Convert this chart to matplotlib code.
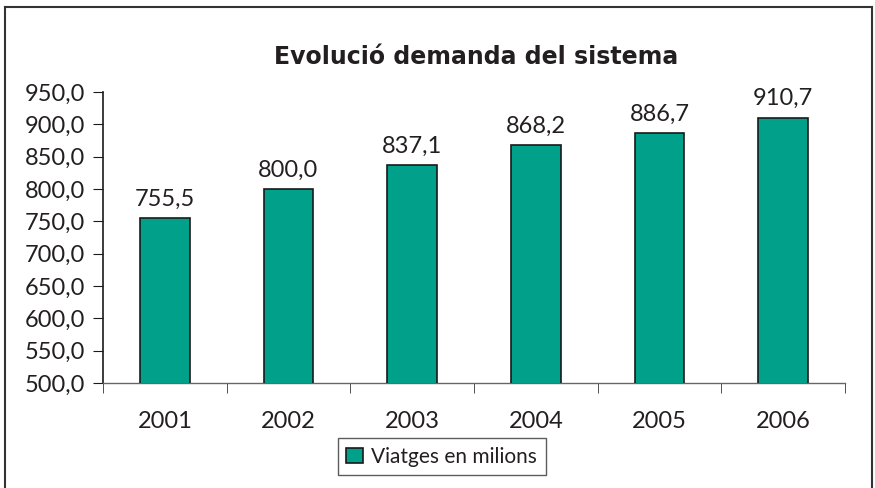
import matplotlib
matplotlib.use('Agg')
import matplotlib.pyplot as plt
from matplotlib.lines import Line2D

years = ['2001', '2002', '2003', '2004', '2005', '2006']
viatges = [755.5, 800.0, 837.1, 868.2, 886.7, 910.7]
yticks = [500, 550, 600, 650, 700, 750, 800, 850, 900, 950]

plt.rcParams['font.family'] = ['Lato', 'DejaVu Sans']
txt = '#231f20'
teal = '#00a08b'

def fmt(v):
    return ('%.1f' % v).replace('.', ',')

fig = plt.figure(figsize=(8.75, 4.88), dpi=100)
ax = fig.add_axes([0.1177, 0.2152, 0.848, 0.596])

x = list(range(len(years)))
bars = ax.bar(x, viatges, width=0.4, color=teal, edgecolor='#1a1a1a',
              linewidth=1.2, label='Viatges en milions', zorder=3)
for xi, v in zip(x, viatges):
    ax.text(xi, v + 13, fmt(v), ha='center', va='bottom', fontsize=17, color=txt)

ax.set_xlim(-0.5, len(years) - 0.5)
ax.set_ylim(500, 950)
ax.set_yticks(yticks)
ax.set_yticklabels([fmt(t) for t in yticks], fontsize=17, color=txt)
ax.set_xticks(x)
ax.set_xticklabels(years, fontsize=17, color=txt)
ax.tick_params(axis='x', length=0, pad=20)
ax.set_xticks([i - 0.5 for i in range(len(years) + 1)], minor=True)
ax.tick_params(axis='x', which='minor', length=7, direction='out', color='#333333')
ax.tick_params(axis='y', length=7, direction='out', color='#1a1a1a', pad=6)
for s in ['top', 'right']:
    ax.spines[s].set_visible(False)
ax.spines['left'].set_color('#1a1a1a')
ax.spines['left'].set_linewidth(1.2)
ax.spines['bottom'].set_color('#666666')
ax.spines['bottom'].set_linewidth(1.0)

fig.text(0.544, 0.883, 'Evolució demanda del sistema', ha='center', va='center',
         fontsize=17, fontweight='bold', color=txt, family='DejaVu Sans')

leg = fig.legend(handles=[bars], loc='center', bbox_to_anchor=(0.505, 0.064),
                 fontsize=15, frameon=True, fancybox=False, edgecolor='#333333',
                 handlelength=0.8, handleheight=0.8, handletextpad=0.4,
                 borderpad=0.4)
for t in leg.get_texts():
    t.set_color(txt)
leg.get_frame().set_linewidth(1.0)

# outer frame (bottom edge falls outside the picture)
fig.add_artist(Line2D([0.0055, 0.0055], [0.0, 0.985], color='#333333', lw=1.5))
fig.add_artist(Line2D([0.0055, 0.997], [0.985, 0.985], color='#333333', lw=1.5))
fig.add_artist(Line2D([0.997, 0.997], [0.0, 0.985], color='#333333', lw=1.5))

fig.savefig('out.png', dpi=100)
